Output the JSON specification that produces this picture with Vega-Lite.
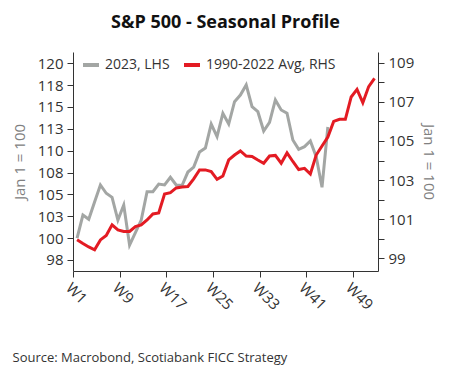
{
  "$schema": "https://vega.github.io/schema/vega-lite/v6.json",
  "autosize": {"type": "none"},
  "padding": {"left": 73, "top": 52, "right": 74, "bottom": 110},
  "width": 305,
  "height": 219,
  "background": "white",
  "title": {"text": "S&P 500 - Seasonal Profile", "font": "Open Sans", "fontSize": 18, "fontWeight": "bold", "color": "#111111", "anchor": "middle", "frame": "group", "baseline": "alphabetic", "offset": 6},
  "config": {
    "view": {"stroke": null},
    "axis": {"grid": false, "domainColor": "#333333", "tickColor": "#333333", "labelColor": "#333333", "labelFont": "Open Sans", "titleFont": "Open Sans", "labelFontSize": 15, "titleFontSize": 15, "titleFontWeight": "normal", "tickSize": 6, "labelPadding": 4}
  },
  "data": {"values": [
    {"series": "2023, LHS", "week": 1, "value": 100.0},
    {"series": "2023, LHS", "week": 2, "value": 102.64},
    {"series": "2023, LHS", "week": 3, "value": 102.15},
    {"series": "2023, LHS", "week": 4, "value": 104.13},
    {"series": "2023, LHS", "week": 5, "value": 106.08},
    {"series": "2023, LHS", "week": 6, "value": 105.13},
    {"series": "2023, LHS", "week": 7, "value": 104.67},
    {"series": "2023, LHS", "week": 8, "value": 102.07},
    {"series": "2023, LHS", "week": 9, "value": 103.79},
    {"series": "2023, LHS", "week": 10, "value": 99.21},
    {"series": "2023, LHS", "week": 11, "value": 100.64},
    {"series": "2023, LHS", "week": 12, "value": 102.07},
    {"series": "2023, LHS", "week": 13, "value": 105.31},
    {"series": "2023, LHS", "week": 14, "value": 105.31},
    {"series": "2023, LHS", "week": 15, "value": 106.19},
    {"series": "2023, LHS", "week": 16, "value": 106.08},
    {"series": "2023, LHS", "week": 17, "value": 106.96},
    {"series": "2023, LHS", "week": 18, "value": 106.08},
    {"series": "2023, LHS", "week": 19, "value": 106.02},
    {"series": "2023, LHS", "week": 20, "value": 107.56},
    {"series": "2023, LHS", "week": 21, "value": 108.13},
    {"series": "2023, LHS", "week": 22, "value": 109.85},
    {"series": "2023, LHS", "week": 23, "value": 110.31},
    {"series": "2023, LHS", "week": 24, "value": 113.05},
    {"series": "2023, LHS", "week": 25, "value": 111.62},
    {"series": "2023, LHS", "week": 26, "value": 114.28},
    {"series": "2023, LHS", "week": 27, "value": 113.05},
    {"series": "2023, LHS", "week": 28, "value": 115.61},
    {"series": "2023, LHS", "week": 29, "value": 116.37},
    {"series": "2023, LHS", "week": 30, "value": 117.52},
    {"series": "2023, LHS", "week": 31, "value": 115.03},
    {"series": "2023, LHS", "week": 32, "value": 114.46},
    {"series": "2023, LHS", "week": 33, "value": 112.25},
    {"series": "2023, LHS", "week": 34, "value": 113.23},
    {"series": "2023, LHS", "week": 35, "value": 115.8},
    {"series": "2023, LHS", "week": 36, "value": 114.66},
    {"series": "2023, LHS", "week": 37, "value": 114.28},
    {"series": "2023, LHS", "week": 38, "value": 111.22},
    {"series": "2023, LHS", "week": 39, "value": 110.16},
    {"series": "2023, LHS", "week": 40, "value": 110.46},
    {"series": "2023, LHS", "week": 41, "value": 111.11},
    {"series": "2023, LHS", "week": 42, "value": 109.31},
    {"series": "2023, LHS", "week": 43, "value": 105.81},
    {"series": "2023, LHS", "week": 44, "value": 112.71},
    {"series": "1990-2022 Avg, RHS", "week": 1, "value": 99.95},
    {"series": "1990-2022 Avg, RHS", "week": 2, "value": 99.76},
    {"series": "1990-2022 Avg, RHS", "week": 3, "value": 99.58},
    {"series": "1990-2022 Avg, RHS", "week": 4, "value": 99.43},
    {"series": "1990-2022 Avg, RHS", "week": 5, "value": 99.94},
    {"series": "1990-2022 Avg, RHS", "week": 6, "value": 100.17},
    {"series": "1990-2022 Avg, RHS", "week": 7, "value": 100.71},
    {"series": "1990-2022 Avg, RHS", "week": 8, "value": 100.45},
    {"series": "1990-2022 Avg, RHS", "week": 9, "value": 100.37},
    {"series": "1990-2022 Avg, RHS", "week": 10, "value": 100.37},
    {"series": "1990-2022 Avg, RHS", "week": 11, "value": 100.62},
    {"series": "1990-2022 Avg, RHS", "week": 12, "value": 100.71},
    {"series": "1990-2022 Avg, RHS", "week": 13, "value": 100.96},
    {"series": "1990-2022 Avg, RHS", "week": 14, "value": 101.27},
    {"series": "1990-2022 Avg, RHS", "week": 15, "value": 101.32},
    {"series": "1990-2022 Avg, RHS", "week": 16, "value": 102.29},
    {"series": "1990-2022 Avg, RHS", "week": 17, "value": 102.36},
    {"series": "1990-2022 Avg, RHS", "week": 18, "value": 102.6},
    {"series": "1990-2022 Avg, RHS", "week": 19, "value": 102.65},
    {"series": "1990-2022 Avg, RHS", "week": 20, "value": 102.67},
    {"series": "1990-2022 Avg, RHS", "week": 21, "value": 103.06},
    {"series": "1990-2022 Avg, RHS", "week": 22, "value": 103.52},
    {"series": "1990-2022 Avg, RHS", "week": 23, "value": 103.52},
    {"series": "1990-2022 Avg, RHS", "week": 24, "value": 103.43},
    {"series": "1990-2022 Avg, RHS", "week": 25, "value": 103.04},
    {"series": "1990-2022 Avg, RHS", "week": 26, "value": 103.21},
    {"series": "1990-2022 Avg, RHS", "week": 27, "value": 104.03},
    {"series": "1990-2022 Avg, RHS", "week": 28, "value": 104.28},
    {"series": "1990-2022 Avg, RHS", "week": 29, "value": 104.49},
    {"series": "1990-2022 Avg, RHS", "week": 30, "value": 104.23},
    {"series": "1990-2022 Avg, RHS", "week": 31, "value": 104.21},
    {"series": "1990-2022 Avg, RHS", "week": 32, "value": 104.03},
    {"series": "1990-2022 Avg, RHS", "week": 33, "value": 103.86},
    {"series": "1990-2022 Avg, RHS", "week": 34, "value": 104.23},
    {"series": "1990-2022 Avg, RHS", "week": 35, "value": 104.26},
    {"series": "1990-2022 Avg, RHS", "week": 36, "value": 103.86},
    {"series": "1990-2022 Avg, RHS", "week": 37, "value": 104.39},
    {"series": "1990-2022 Avg, RHS", "week": 38, "value": 103.95},
    {"series": "1990-2022 Avg, RHS", "week": 39, "value": 103.54},
    {"series": "1990-2022 Avg, RHS", "week": 40, "value": 103.6},
    {"series": "1990-2022 Avg, RHS", "week": 41, "value": 103.31},
    {"series": "1990-2022 Avg, RHS", "week": 42, "value": 104.28},
    {"series": "1990-2022 Avg, RHS", "week": 43, "value": 104.74},
    {"series": "1990-2022 Avg, RHS", "week": 44, "value": 105.2},
    {"series": "1990-2022 Avg, RHS", "week": 45, "value": 106.0},
    {"series": "1990-2022 Avg, RHS", "week": 46, "value": 106.11},
    {"series": "1990-2022 Avg, RHS", "week": 47, "value": 106.11},
    {"series": "1990-2022 Avg, RHS", "week": 48, "value": 107.25},
    {"series": "1990-2022 Avg, RHS", "week": 49, "value": 107.64},
    {"series": "1990-2022 Avg, RHS", "week": 50, "value": 106.96},
    {"series": "1990-2022 Avg, RHS", "week": 51, "value": 107.78},
    {"series": "1990-2022 Avg, RHS", "week": 52, "value": 108.2}
  ]},
  "encoding": {
    "x": {"field": "week", "type": "quantitative",
      "scale": {"domain": [0.3, 52.6], "nice": false, "zero": false},
      "axis": {"values": [0.3, 8.3, 16.3, 24.3, 32.3, 40.3, 48.3], "labelExpr": "'W' + round(datum.value + 0.7)", "labelAngle": 45, "labelAlign": "left", "labelBaseline": "top", "labelPadding": 3,
        "title": "Source: Macrobond, Scotiabank FICC Strategy", "titleAnchor": "start", "titleAlign": "left", "titleX": -61, "titleY": 90, "titleBaseline": "alphabetic", "titleFontSize": 13, "titleColor": "#333333"}},
    "color": {"field": "series", "type": "nominal",
      "scale": {"domain": ["2023, LHS", "1990-2022 Avg, RHS"], "range": ["#a3a6a4", "#e31b23"]},
      "legend": {"orient": "none", "legendX": 8, "legendY": 3, "direction": "horizontal", "title": null, "symbolType": "stroke", "symbolStrokeWidth": 4, "symbolSize": 256, "labelFontSize": 14, "labelFont": "Open Sans", "labelColor": "#333333", "columnPadding": 6, "labelOffset": 4}}
  },
  "layer": [
    {
      "transform": [{"filter": "datum.series === '2023, LHS'"}],
      "mark": {"type": "line", "strokeWidth": 3},
      "encoding": {
        "y": {"field": "value", "type": "quantitative",
          "scale": {"domain": [96.24, 121.29], "nice": false, "zero": false},
          "axis": {"orient": "left", "values": [97.5, 100, 102.5, 105, 107.5, 110, 112.5, 115, 117.5, 120], "format": ".0f", "title": "Jan 1 = 100", "titleColor": "#808080", "titlePadding": 10}}
      }
    },
    {
      "transform": [{"filter": "datum.series === '1990-2022 Avg, RHS'"}],
      "mark": {"type": "line", "strokeWidth": 3},
      "encoding": {
        "y": {"field": "value", "type": "quantitative",
          "scale": {"domain": [98.35, 109.55], "nice": false, "zero": false},
          "axis": {"orient": "right", "values": [99, 100, 101, 102, 103, 104, 105, 106, 107, 108, 109], "labelExpr": "datum.value % 2 == 1 ? datum.label : ''", "title": "Jan 1 = 100", "titleColor": "#808080", "titlePadding": 7}}
      }
    }
  ],
  "resolve": {"scale": {"y": "independent"}}
}
